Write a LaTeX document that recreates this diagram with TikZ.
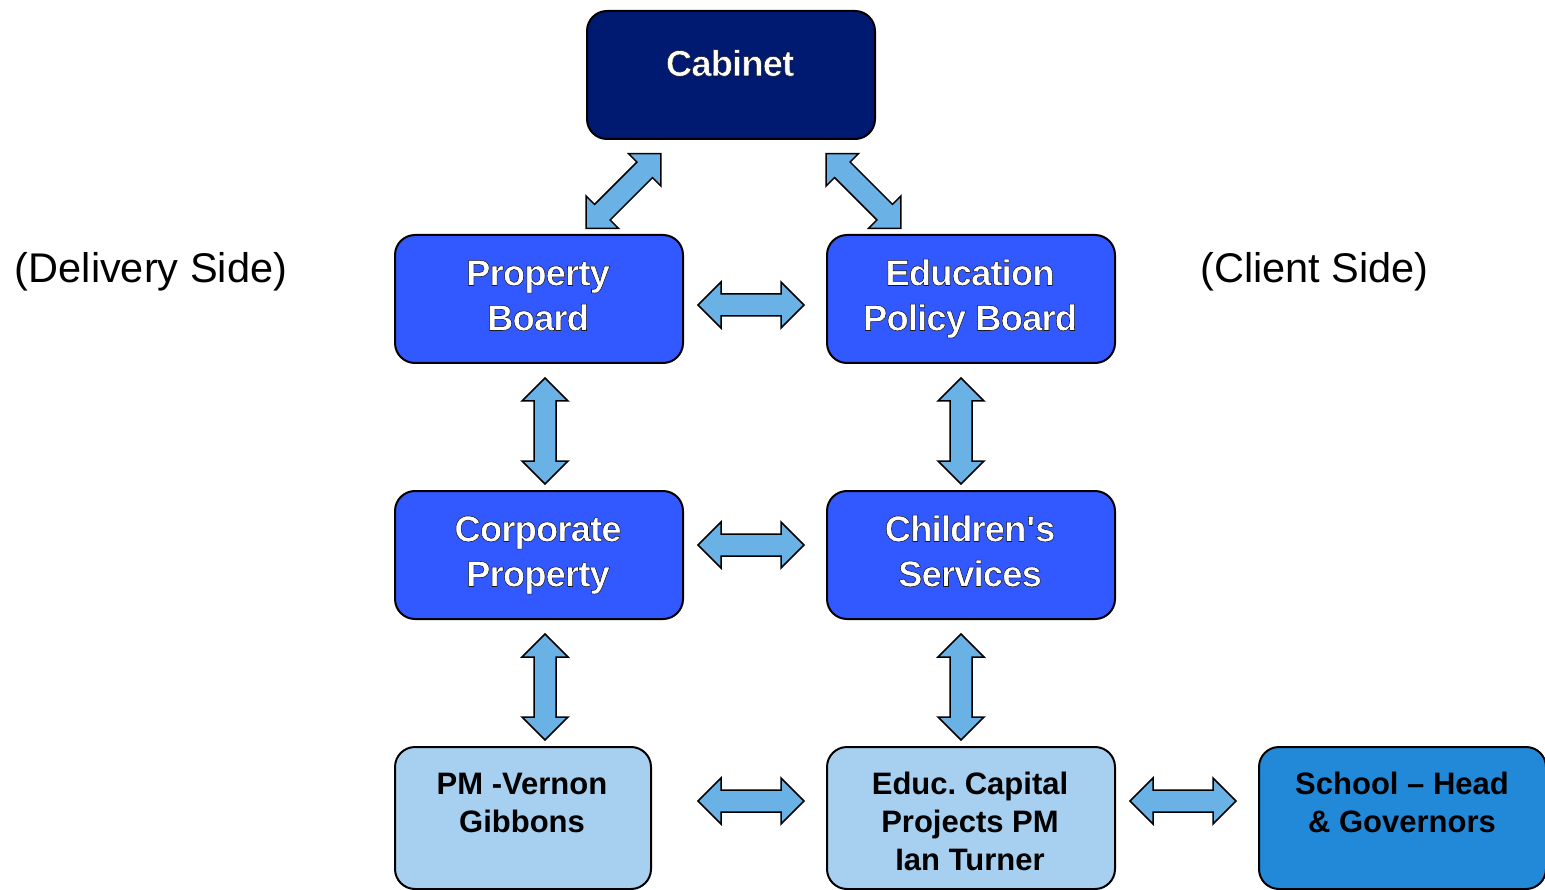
\documentclass[tikz,border=0pt]{standalone}
\usepackage{fontspec}
\setmainfont{Liberation Sans}
\usetikzlibrary{calc}
\frenchspacing

\definecolor{cabfill}{RGB}{0,26,114}
\definecolor{midfill}{RGB}{50,88,255}
\definecolor{lowfill}{RGB}{167,207,239}
\definecolor{schfill}{RGB}{34,137,217}
\definecolor{arrfill}{RGB}{106,178,230}

% white heading text, filled and then stroked with a thin dark outline
\newcommand\haloline[1]{\strut
  \special{pdf:literal direct 2 Tr 0.55 w 0.1 0.1 0.1 RG}#1%
  \special{pdf:literal direct 0 Tr}}

\tikzset{
  x=1pt, y=-1pt,
  box/.style={draw=black, line width=2pt, rounded corners=20pt,
    minimum width=288pt, minimum height=128pt, inner sep=0pt, anchor=north west},
  lowbox/.style={box, minimum height=142pt},
  headtxt/.style={text=white, align=center, inner sep=0pt,
    font=\fontsize{36.5}{45}\selectfont\bfseries\addfontfeatures{LetterSpace=-2.5}},
  lowtxt/.style={text=black, align=center, inner sep=0pt,
    font=\fontsize{31}{38}\selectfont\bfseries},
  sidetxt/.style={text=black, inner sep=0pt, anchor=base,
    font=\fontsize{41.5}{48}\selectfont},
  dblarrow/.pic={
    \coordinate (-c) at (0,0);
    \draw[line width=1.5pt, fill=arrfill, line join=miter]
      (-53,0) -- (-30,-23) -- (-30,-11) -- (30,-11) -- (30,-23) -- (53,0)
      -- (30,23) -- (30,11) -- (-30,11) -- (-30,23) -- cycle;
  }
}

\begin{document}
\begin{tikzpicture}
\useasboundingbox (0,0) rectangle (1545,890);

% boxes
\node[box, fill=cabfill] (cab) at (586,10) {};
\node[box, fill=midfill] (pb)  at (394,234) {};
\node[box, fill=midfill] (epb) at (826,234) {};
\node[box, fill=midfill] (cp)  at (394,490) {};
\node[box, fill=midfill] (cs)  at (826,490) {};
\node[lowbox, fill=lowfill, minimum width=256pt] (pm) at (394,746) {};
\node[lowbox, fill=lowfill] (ecp) at (826,746) {};
\node[lowbox, fill=schfill, minimum width=287pt] (sch) at (1258,746) {};

% box texts
\node[headtxt] (cab-t) at (730,67) {\haloline{Cabinet}};
\node[headtxt] (pb-t)  at (538,299) {\haloline{Property}\\\haloline{Board}};
\node[headtxt] (epb-t) at (970,299) {\haloline{Education}\\\haloline{Policy Board}};
\node[headtxt] (cp-t)  at (538,555) {\haloline{Corporate}\\\haloline{Property}};
\node[headtxt] (cs-t)  at (970,555) {\haloline{Children\textquotesingle s}\\\haloline{Services}};
\node[lowtxt] (pm-t)  at (522,805.4) {\strut PM -Vernon\\\strut Gibbons};
\node[lowtxt] (ecp-t) at (970,824.4) {\strut Educ. Capital\\\strut Projects PM\\\strut Ian Turner};
\node[lowtxt] (sch-t) at (1402,805.4) {\strut School -- Head\\\strut \& Governors};

% side captions
\node[sidetxt] (deliv)  at (151,283) {(Delivery Side)};
\node[sidetxt] (client) at (1314.5,283) {(Client Side)};

% two-way block arrows between the boxes
\pic[rotate=45]  (cab-pb)  at (623.5,191) {dblarrow};
\pic[rotate=-45] (cab-epb) at (863.5,191) {dblarrow};
\pic             (pb-epb)  at (751,305) {dblarrow};
\pic             (cp-cs)   at (751,545) {dblarrow};
\pic             (pm-ecp)  at (751,801) {dblarrow};
\pic             (ecp-sch) at (1183,801) {dblarrow};
\pic[rotate=90]  (pb-cp)   at (545,431) {dblarrow};
\pic[rotate=90]  (cp-pm)   at (545,687) {dblarrow};
\pic[rotate=90]  (epb-cs)  at (961,431) {dblarrow};
\pic[rotate=90]  (cs-ecp)  at (961,687) {dblarrow};
\end{tikzpicture}
\end{document}
